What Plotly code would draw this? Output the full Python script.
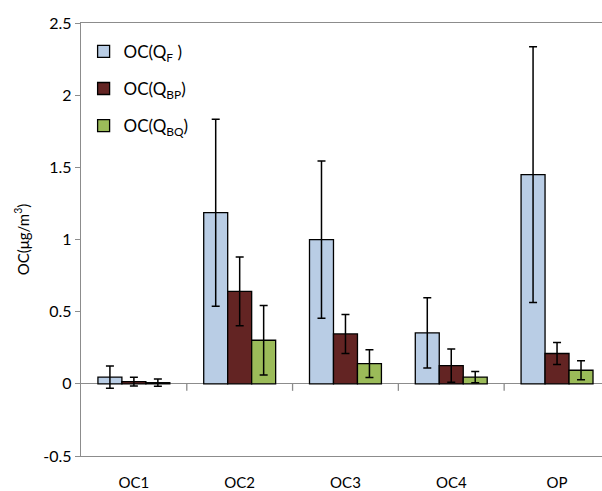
import plotly.graph_objects as go

categories = ["OC1", "OC2", "OC3", "OC4", "OP"]
series_names = ["OC(Q<sub>F</sub> )", "OC(Q<sub>BP</sub>)", "OC(Q<sub>BQ</sub>)"]
qf_values = [0.047, 1.186, 0.999, 0.353, 1.450]
qf_errors = [0.077, 0.648, 0.545, 0.244, 0.886]
qbp_values = [0.015, 0.640, 0.346, 0.126, 0.210]
qbp_errors = [0.030, 0.238, 0.135, 0.115, 0.076]
qbq_values = [0.008, 0.302, 0.140, 0.047, 0.094]
qbq_errors = [0.025, 0.240, 0.096, 0.039, 0.066]
colors = ["#B9CDE5", "#632423", "#9BBB59"]
y_tickvals = [-0.5, 0, 0.5, 1, 1.5, 2, 2.5]
y_ticktext = ["-0.5", "0", "0.5", "1", "1.5", "2", "2.5"]

font_family = "Lato, 'Open Sans', sans-serif"
axis_gray = "#8C8C8C"

fig = go.Figure()
for i, (name, vals, errs) in enumerate(zip(series_names,
                                            [qf_values, qbp_values, qbq_values],
                                            [qf_errors, qbp_errors, qbq_errors])):
    fig.add_trace(go.Bar(
        x=categories, y=vals, name=name,
        marker=dict(color=colors[i], line=dict(color="#000000", width=1.3)),
        error_y=dict(type="data", array=errs, visible=True,
                     color="#000000", thickness=1.5, width=4),
        legendgroup=f"g{i}",
    ))

# category boundary ticks below the zero line
for k in range(1, len(categories)):
    fig.add_shape(type="line", xref="x", yref="y", x0=k - 0.5, x1=k - 0.5,
                  ysizemode="pixel", yanchor=0, y0=0, y1=-7,
                  line=dict(color=axis_gray, width=1.3))

fig.update_layout(
    width=602, height=491,
    margin=dict(l=81, r=0, t=23, b=35),
    paper_bgcolor="white", plot_bgcolor="white",
    barmode="group", bargap=0.32, bargroupgap=0,
    font=dict(family=font_family, size=15, color="#000000"),
    showlegend=True,
    legend=dict(x=0.005, y=0.975, xanchor="left", yanchor="top",
                bgcolor="rgba(0,0,0,0)", font=dict(size=17),
                tracegroupgap=12, itemwidth=30),
    xaxis=dict(range=[-0.5, 4.425], showline=True, mirror=True,
               linecolor=axis_gray, linewidth=1.3, ticks="",
               ticklabelstandoff=13, showgrid=False,
               tickfont=dict(size=15)),
    yaxis=dict(range=[-0.5, 2.5], tickvals=y_tickvals, ticktext=y_ticktext,
               showline=True, linecolor=axis_gray, linewidth=1.3,
               ticks="outside", ticklen=5, tickcolor=axis_gray, tickwidth=1.3,
               showgrid=False, zeroline=True, zerolinecolor=axis_gray,
               zerolinewidth=1.3,
               title=dict(text="OC(μg/m<sup>3</sup>)", standoff=10,
                          font=dict(size=15)),
               tickfont=dict(size=16)),
)

fig.write_html("out.html")
